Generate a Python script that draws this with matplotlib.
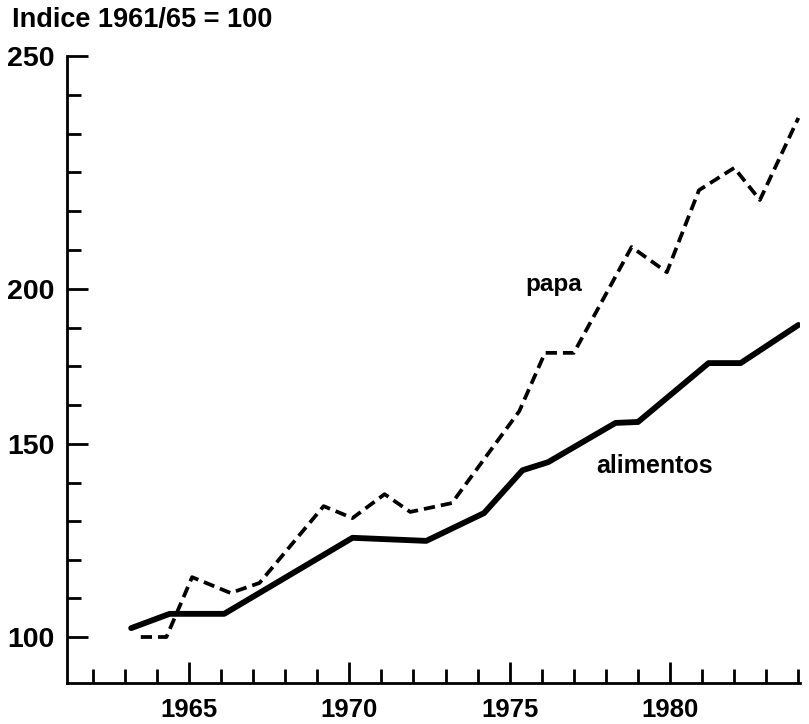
import numpy as np
import matplotlib
matplotlib.use("Agg")
import matplotlib.pyplot as plt

plt.rcParams['font.family'] = ['Liberation Sans', 'DejaVu Sans']
plt.rcParams['font.weight'] = 'bold'

# data (x in years, y index 1961/65 = 100)
papa_x = [1963.5, 1964.3, 1965.1, 1966.3, 1967.2, 1969.2, 1970.1, 1971.1,
          1971.9, 1973.2, 1975.3, 1976.1, 1977.0, 1978.8, 1979.9, 1980.9,
          1982.0, 1982.8, 1984.0]
papa_y = [100.0, 100.0, 115.5, 111.4, 114.0, 133.9, 130.8, 137.0,
          132.4, 134.7, 160.6, 179.4, 179.4, 209.0, 203.6, 221.2,
          226.0, 219.1, 236.7]

alimentos_x = [1963.2, 1964.4, 1966.1, 1970.1, 1972.4, 1974.2, 1975.4,
               1976.2, 1978.3, 1979.0, 1981.2, 1982.2, 1984.0]
alimentos_y = [102.3, 106.0, 106.0, 125.7, 124.9, 132.1, 143.2,
               145.3, 156.8, 157.1, 176.1, 176.1, 188.4]

major_years = [1965, 1970, 1975, 1980]
minor_years = [y for y in range(1962, 1985) if y % 5 != 0]
y_labels = [100, 150, 200, 250]

# the printed axis is not evenly spaced between its labels -> piecewise scale
Y_ANCHOR_VAL = [88.1, 100, 150, 200, 250]
Y_ANCHOR_POS = [0, 46, 239, 394, 627]


def fwd(v):
    return np.interp(v, Y_ANCHOR_VAL, Y_ANCHOR_POS)


def inv(p):
    return np.interp(p, Y_ANCHOR_POS, Y_ANCHOR_VAL)


fig = plt.figure(figsize=(8.09, 7.24), dpi=100)
ax = fig.add_axes([67/809, 41/724, 733/809, 627/724])

ax.plot(alimentos_x, alimentos_y, color='k', lw=4.2,
        solid_capstyle='round', solid_joinstyle='round')
ax.plot(papa_x, papa_y, color='k', lw=2.7, dashes=(3, 1.6),
        dash_capstyle='butt')

ax.set_yscale('function', functions=(fwd, inv))
ax.set_xlim(1961.2, 1984.05)
ax.set_ylim(88.1, 250)

ax.spines['top'].set_visible(False)
ax.spines['right'].set_visible(False)
ax.spines['left'].set_linewidth(2)
ax.spines['bottom'].set_linewidth(2)

y_minor = list(np.arange(110, 150, 10)) + \
    list(np.linspace(150, 200, 5)[1:-1]) + list(np.linspace(200, 250, 7)[1:-1])
ax.set_yticks(y_labels)
ax.set_yticklabels([str(v) for v in y_labels])
ax.set_yticks(y_minor, minor=True)
ax.set_xticks(major_years)
ax.set_xticklabels([str(v) for v in major_years])
ax.set_xticks(minor_years, minor=True)

ax.tick_params(axis='both', which='major', direction='in', length=15,
               width=2, color='k')
ax.tick_params(axis='both', which='minor', direction='in', length=10,
               width=2, color='k')
ax.tick_params(axis='y', which='major', labelsize=20.5, pad=9)
ax.tick_params(axis='x', which='major', labelsize=18.5, pad=11)

ax.text(1975.5, 201, "papa", fontsize=17.5, ha='left', va='center')
ax.text(1977.7, 144.4, "alimentos", fontsize=18, ha='left', va='center')

fig.text(12/809, 1 - 27/724, "Indice 1961/65 = 100", fontsize=19.5,
         ha='left', va='baseline')

fig.savefig("out.png", dpi=100)
